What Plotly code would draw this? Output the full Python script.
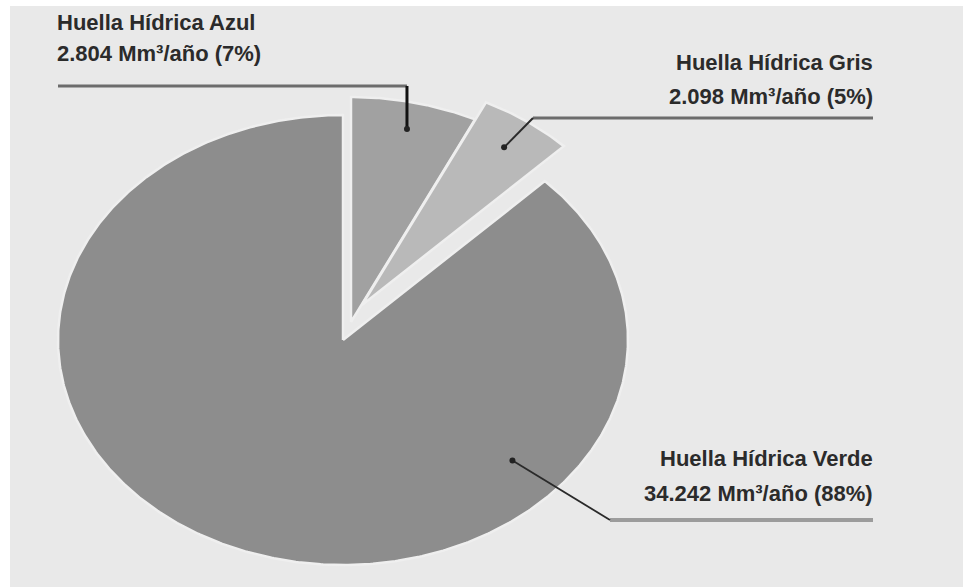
import numpy as np
import plotly.graph_objects as go

# ---- data ----
labels = ["Huella Hídrica Azul", "Huella Hídrica Gris", "Huella Hídrica Verde"]
values = [2804, 2098, 34242]
value_text = ["2.804", "2.098", "34.242"]
pct_text = ["7%", "5%", "88%"]
unit = "Mm³/año"

# ---- styles / layout ----
colors = ["#a1a1a1", "#b9b9b9", "#8d8d8d"]
CX, CY = 343, 340          # pie centre (px-like axis units)
RX, RY = 285, 225          # ellipse radii
pull = [(8, -18), (19, -35), (0, 0)]
anchor = [(None, 0.88), (None, 0.86), (132.0, 0.80)]   # leader dot angle (deg, None=mid) and radius
text_font = "Liberation Sans, Arial, sans-serif"
FS = 22

fig = go.Figure()
total = float(sum(values))
start = 0.0
dots = []
for i, v in enumerate(values):
    span = 360.0 * v / total
    a0, a1 = start, start + span
    start = a1
    dx, dy = pull[i]
    cx, cy = CX + dx, CY + dy
    th = np.radians(np.linspace(a0, a1, max(int(span * 2), 8)))
    xs = np.concatenate([[cx], cx + RX * np.sin(th), [cx]])
    ys = np.concatenate([[cy], cy - RY * np.cos(th), [cy]])
    fig.add_trace(go.Scatter(x=xs, y=ys, mode="lines", fill="toself",
                             fillcolor=colors[i],
                             line=dict(color="#efefef", width=2.5),
                             hoverinfo="skip", showlegend=False))
    ang = anchor[i][0] if anchor[i][0] is not None else (a0 + a1) / 2
    r = anchor[i][1]
    dots.append((cx + r * RX * np.sin(np.radians(ang)), cy - r * RY * np.cos(np.radians(ang))))

# leader lines
# Azul: vertical up then horizontal left
ax_, ay_ = dots[0]
fig.add_trace(go.Scatter(x=[58, ax_], y=[86, 86], mode="lines",
                         line=dict(color="#6c6c6c", width=3), hoverinfo="skip", showlegend=False))
fig.add_trace(go.Scatter(x=[ax_, ax_], y=[86, ay_], mode="lines",
                         line=dict(color="#111111", width=3), hoverinfo="skip", showlegend=False))
# Gris
gx, gy = dots[1]
fig.add_trace(go.Scatter(x=[533, 873], y=[118, 118], mode="lines",
                         line=dict(color="#6c6c6c", width=3), hoverinfo="skip", showlegend=False))
fig.add_trace(go.Scatter(x=[gx, 533], y=[gy, 118], mode="lines",
                         line=dict(color="#2a2a2a", width=2), hoverinfo="skip", showlegend=False))
# Verde
vx, vy = dots[2]
fig.add_trace(go.Scatter(x=[610, 873], y=[520, 520], mode="lines",
                         line=dict(color="#9c9c9c", width=4), hoverinfo="skip", showlegend=False))
fig.add_trace(go.Scatter(x=[vx, 610], y=[vy, 520], mode="lines",
                         line=dict(color="#2a2a2a", width=1.8), hoverinfo="skip", showlegend=False))
# dots
fig.add_trace(go.Scatter(x=[d[0] for d in dots], y=[d[1] for d in dots], mode="markers",
                         marker=dict(color="#222222", size=6), hoverinfo="skip", showlegend=False))

# labels
pos = [(55, 22, 53, "left"), (875, 62, 96, "right"), (875, 458, 493, "right")]
for i in range(3):
    x, y1, y2, anc = pos[i]
    fig.add_annotation(x=x, y=y1, text="<b>" + labels[i] + "</b>", showarrow=False,
                       xanchor=anc, yanchor="middle",
                       font=dict(family=text_font, size=FS, color="#2b2b2b"))
    fig.add_annotation(x=x, y=y2, text="<b>%s %s (%s)</b>" % (value_text[i], unit, pct_text[i]),
                       showarrow=False, xanchor=anc, yanchor="middle",
                       font=dict(family=text_font, size=FS, color="#2b2b2b"))

fig.update_layout(
    width=963, height=587,
    margin=dict(l=10, r=0, t=6, b=0),
    paper_bgcolor="white", plot_bgcolor="#e9e9e9",
    xaxis=dict(range=[10, 963], visible=False, fixedrange=True),
    yaxis=dict(range=[587, 6], visible=False, fixedrange=True),
    showlegend=False,
)
fig.write_html("out.html")
